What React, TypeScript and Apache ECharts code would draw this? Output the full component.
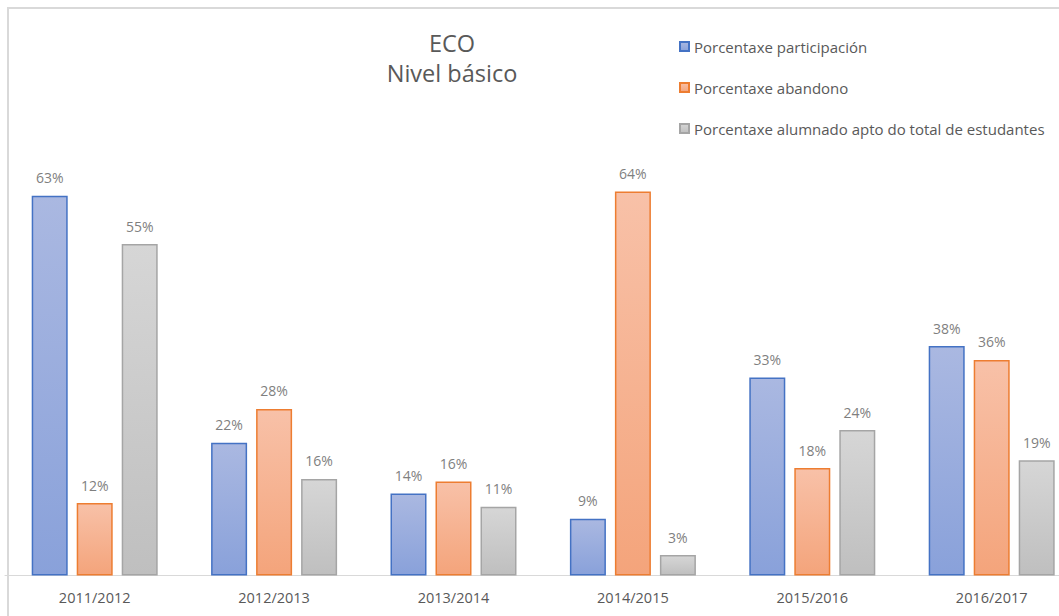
import React, { useEffect, useRef } from "react";
import * as echarts from "echarts";

const categories = ["2011/2012", "2012/2013", "2013/2014", "2014/2015", "2015/2016", "2016/2017"];
const participacion = [62.9, 22.0, 13.6, 9.4, 32.8, 38.0];
const abandono = [12.0, 27.6, 15.6, 63.6, 17.8, 35.7];
const apto = [54.9, 16.0, 11.4, 3.4, 24.1, 19.1];
const seriesNames = [
  "Porcentaxe participación",
  "Porcentaxe abandono",
  "Porcentaxe alumnado apto do total de estudantes",
];
const titleLines = ["ECO", "Nivel básico"];

const FONT = "'Open Sans', 'Noto Sans', sans-serif";
const TEXT = "#595959";

function grad(top: string, bottom: string) {
  return new echarts.graphic.LinearGradient(0, 0, 0, 1, [
    { offset: 0, color: top },
    { offset: 1, color: bottom },
  ]);
}

export default function App() {
  const ref = useRef<HTMLDivElement>(null);
  useEffect(() => {
    if (!ref.current) return;
    const chart = echarts.init(ref.current, undefined, { renderer: "svg" });
    const styles = [
      { fill: grad("#aab8e1", "#89a1da"), border: "#4472c4" },
      { fill: grad("#f8c1a8", "#f4a47b"), border: "#ed7d31" },
      { fill: grad("#d6d6d6", "#bfbfbf"), border: "#a5a5a5" },
    ];
    const data = [participacion, abandono, apto];
    chart.setOption({
      animation: false,
      title: {
        text: titleLines.join("\n"),
        left: 447,
        top: 23,
        textAlign: "center",
        textStyle: {
          fontFamily: FONT,
          fontSize: 23.5,
          fontWeight: "normal",
          color: TEXT,
          lineHeight: 30,
        },
      },
      legend: {
        orient: "vertical",
        left: 674,
        top: 34,
        itemWidth: 9,
        itemHeight: 9,
        itemGap: 26,
        icon: "rect",
        textStyle: {
          fontFamily: FONT,
          fontSize: 15,
          color: TEXT,
          lineHeight: 14,
        },
        data: seriesNames,
      },
      grid: {
        left: 5,
        top: 152.8,
        width: 1076.4,
        height: 422.8,
        outerBoundsMode: "none",
        containLabel: false,
      },
      xAxis: {
        type: "category",
        data: categories,
        axisLine: { lineStyle: { color: "#d9d9d9", width: 1 } },
        axisTick: { show: false },
        axisLabel: {
          fontFamily: FONT,
          fontSize: 14.5,
          color: TEXT,
          margin: 14,
        },
      },
      yAxis: {
        type: "value",
        min: 0,
        max: 70,
        show: false,
        splitLine: { show: false },
      },
      series: seriesNames.map((name, i) => ({
        name,
        type: "bar",
        data: data[i],
        barWidth: 36,
        barGap: "25%",
        itemStyle: {
          color: styles[i].fill,
          borderColor: styles[i].border,
          borderWidth: 1.5,
        },
        label: {
          show: true,
          position: "top",
          distance: 11,
          fontFamily: FONT,
          fontSize: 14,
          color: "#7f7f7f",
          formatter: (p: any) => Math.round(p.value) + "%",
        },
      })),
      graphic: [
        {
          type: "rect",
          shape: { x: 8, y: 8, width: 1200, height: 800 },
          style: { fill: "none", stroke: "#d9d9d9", lineWidth: 2 },
          silent: true,
        },
      ],
    });
    return () => chart.dispose();
  }, []);
  return (
    <div
      ref={ref}
      style={{ position: "fixed", left: 0, top: 0, width: 1059, height: 616, background: "#fff" }}
    />
  );
}
